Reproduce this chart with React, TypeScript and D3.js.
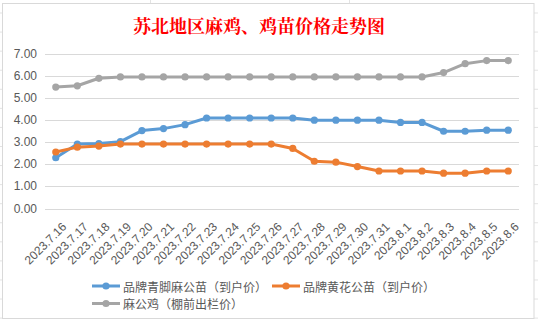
import React from "react";
import * as d3 from "d3";

const categories = [
  "2023.7.16", "2023.7.17", "2023.7.18", "2023.7.19", "2023.7.20", "2023.7.21",
  "2023.7.22", "2023.7.23", "2023.7.24", "2023.7.25", "2023.7.26", "2023.7.27",
  "2023.7.28", "2023.7.29", "2023.7.30", "2023.7.31", "2023.8.1", "2023.8.2",
  "2023.8.3", "2023.8.4", "2023.8.5", "2023.8.6",
];

const blueValues = [
  2.3, 2.92, 2.94, 3.03, 3.53, 3.62, 3.8, 4.1, 4.1, 4.1, 4.1, 4.1,
  4.0, 4.0, 4.0, 4.0, 3.9, 3.9, 3.5, 3.5, 3.55, 3.55,
];
const orangeValues = [
  2.56, 2.78, 2.83, 2.92, 2.92, 2.92, 2.92, 2.92, 2.92, 2.92, 2.92, 2.72,
  2.14, 2.1, 1.9, 1.7, 1.7, 1.7, 1.6, 1.6, 1.7, 1.7,
];
const grayValues = [
  5.5, 5.56, 5.9, 5.96, 5.96, 5.96, 5.96, 5.96, 5.96, 5.96, 5.96, 5.96,
  5.96, 5.96, 5.96, 5.96, 5.96, 5.96, 6.16, 6.56, 6.7, 6.7,
];

const seriesNames = ["品牌青脚麻公苗（到户价）", "品牌黄花公苗（到户价）", "麻公鸡（棚前出栏价）"];
const seriesColors = ["#5B9BD5", "#ED7D31", "#A5A5A5"];
const yTicks = [0, 1, 2, 3, 4, 5, 6, 7];
const title = "苏北地区麻鸡、鸡苗价格走势图";

const W = 538;
const H = 325;
const plot = { left: 45, right: 519, top: 54, bottom: 208.5 };

export default function App() {
  const x = d3
    .scaleBand<string>()
    .domain(categories)
    .range([plot.left, plot.right])
    .padding(0);
  const cx = (c: string) => (x(c) as number) + x.bandwidth() / 2;
  const y = d3.scaleLinear().domain([0, 7]).range([plot.bottom, plot.top]);

  const series = [blueValues, orangeValues, grayValues];
  const line = d3
    .line<number>()
    .x((_, i) => cx(categories[i]))
    .y((v) => y(v));

  const sheetRows = d3.range(0, 17).map((k) => 13 + k * 19.07);
  const legendItems = [
    { x: 92, y: 286 },
    { x: 272, y: 286 },
    { x: 92, y: 303.5 },
  ];

  return (
    <div style={{ position: "fixed", left: 0, top: 0 }}>
      <svg width={W} height={H} style={{ display: "block", background: "#fff" }}>
        {/* spreadsheet background lines */}
        {sheetRows.map((r, i) => (
          <g key={"sr" + i}>
            <line x1={0} x2={2} y1={r} y2={r} stroke="#E3E3E3" />
            <line x1={534} x2={538} y1={r} y2={r} stroke="#E3E3E3" />
          </g>
        ))}
        <line x1={150.5} x2={150.5} y1={0} y2={3} stroke="#E3E3E3" />
        <line x1={349.5} x2={349.5} y1={0} y2={3} stroke="#E3E3E3" />
        {/* chart area */}
        <rect x={2.5} y={3.5} width={531.5} height={315} fill="#fff" stroke="#D9D9D9" />

        <text
          x={259}
          y={24.5}
          textAnchor="middle"
          dominantBaseline="central"
          fill="#FF0000"
          fontSize={18}
          fontWeight="bold"
          fontFamily="'Noto Serif CJK SC', 'Noto Sans CJK SC', serif"
        >
          {title}
        </text>

        {/* gridlines and y labels */}
        {yTicks.map((t) => (
          <g key={"g" + t}>
            <line
              x1={plot.left}
              x2={plot.right}
              y1={Math.round(y(t)) + 0.5}
              y2={Math.round(y(t)) + 0.5}
              stroke="#D9D9D9"
              strokeWidth={1}
            />
            <text
              x={37}
              y={y(t)}
              textAnchor="end"
              dominantBaseline="central"
              fill="#595959"
              fontSize={12}
              fontFamily="'Liberation Sans', Arial, sans-serif"
            >
              {t.toFixed(2)}
            </text>
          </g>
        ))}

        {/* x labels */}
        {categories.map((c) => (
          <text
            key={"x" + c}
            transform={`translate(${cx(c) + 11.5},${227.5}) rotate(-45)`}
            textAnchor="end"
            fill="#595959"
            fontSize={12}
            fontFamily="'Liberation Sans', Arial, sans-serif"
          >
            {c}
          </text>
        ))}

        {/* series */}
        {series.map((vals, si) => (
          <g key={"s" + si}>
            <path
              d={line(vals) as string}
              fill="none"
              stroke={seriesColors[si]}
              strokeWidth={3}
              strokeLinejoin="round"
              strokeLinecap="round"
            />
            {vals.map((v, i) => (
              <circle
                key={i}
                cx={cx(categories[i])}
                cy={y(v)}
                r={3.6}
                fill={seriesColors[si]}
              />
            ))}
          </g>
        ))}

        {/* legend */}
        {legendItems.map((li, i) => (
          <g key={"l" + i}>
            <line
              x1={li.x}
              x2={li.x + 28}
              y1={li.y}
              y2={li.y}
              stroke={seriesColors[i]}
              strokeWidth={3}
            />
            <circle cx={li.x + 14} cy={li.y} r={3.6} fill={seriesColors[i]} />
            <text
              x={li.x + 31}
              y={li.y}
              dominantBaseline="central"
              fill="#595959"
              fontSize={12}
              fontFamily="'Noto Sans CJK SC', sans-serif"
            >
              {seriesNames[i]}
            </text>
          </g>
        ))}
      </svg>
    </div>
  );
}
